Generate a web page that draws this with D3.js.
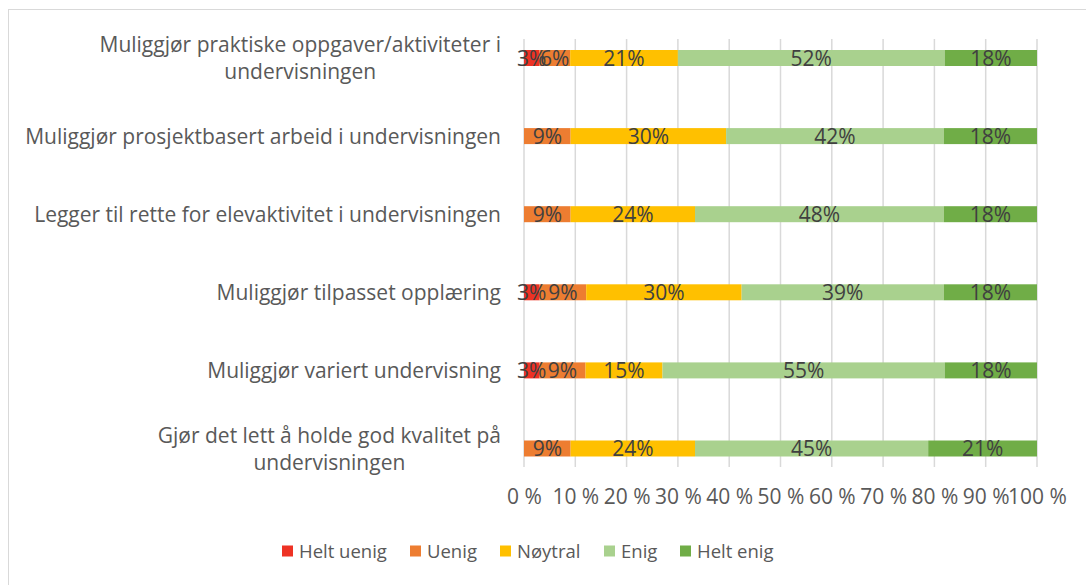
<!DOCTYPE html>
<html>
<head>
<meta charset="utf-8">
<script src="https://cdn.jsdelivr.net/npm/d3@7"></script>
<style>
  body { margin: 0; background: #fff; }
  svg { display: block; font-family: 'Open Sans', sans-serif; }
</style>
</head>
<body>
<script>
var width = 1086
var height = 585

// categories top to bottom, split into lines as in the original
var categories = [
    ['Muliggjør praktiske oppgaver/aktiviteter i', 'undervisningen'],
    ['Muliggjør prosjektbasert arbeid i undervisningen'],
    ['Legger til rette for elevaktivitet i undervisningen'],
    ['Muliggjør tilpasset opplæring'],
    ['Muliggjør variert undervisning'],
    ['Gjør det lett å holde god kvalitet på', 'undervisningen']
]
var series = ['Helt uenig', 'Uenig', 'Nøytral', 'Enig', 'Helt enig']
var colors = ['#EE3224', '#ED7D31', '#FFC000', '#A9D18E', '#70AD47']

var heltUenig = [3, 0, 0, 3, 3, 0]
var uenig     = [6, 9, 9, 9, 9, 9]
var noytral   = [21, 30, 24, 30, 15, 24]
var enig      = [52, 42, 48, 39, 55, 45]
var heltEnig  = [18, 18, 18, 18, 18, 21]

var ticks = [0, 0.1, 0.2, 0.3, 0.4, 0.5, 0.6, 0.7, 0.8, 0.9, 1]

var values = [heltUenig, uenig, noytral, enig, heltEnig]
var rows = categories.map(function(c, i) {
    var r = { key: i }
    series.forEach(function(s, j) { r[s] = values[j][i] })
    return r
})

var stack = d3.stack()
    .keys(series)
    .offset(d3.stackOffsetExpand)
var layers = stack(rows)

var x = d3.scaleLinear()
    .domain([0, 1])
    .range([524, 1037])

var y = d3.scalePoint()
    .domain(d3.range(categories.length))
    .range([58, 448.5])

var barH = 16
var fontSize = '21px'
var legendSize = '18.5px'

var svg = d3.select('body').append('svg')
    .attr('width', width)
    .attr('height', height)

// chart border
svg.append('rect')
    .attr('x', 8.5).attr('y', 9.5)
    .attr('width', 1200).attr('height', 700)
    .style('fill', 'none')
    .style('stroke', '#d9d9d9')

// gridlines
svg.append('g')
    .attr('class', 'grid')
    .selectAll('line')
    .data(ticks)
    .enter().append('line')
    .attr('x1', function(d) { return x(d) })
    .attr('x2', function(d) { return x(d) })
    .attr('y1', 39)
    .attr('y2', 467)
    .style('stroke', '#d9d9d9')
    .style('stroke-width', 1.5)

// x axis tick labels
var xAxis = d3.axisBottom(x)
    .tickValues(ticks)
    .tickSize(0)
    .tickPadding(0)
    .tickFormat(function(d) { return Math.round(d * 100) + ' %' })

svg.append('g')
    .attr('transform', 'translate(0,496)')
    .call(xAxis)
    .call(function(g) { g.select('.domain').remove() })
    .selectAll('text')
    .attr('dy', '0.36em')
    .style('font-family', "'Open Sans', sans-serif")
    .style('font-size', fontSize)
    .style('fill', '#595959')

// bars
var layer = svg.append('g')
    .attr('class', 'bars')
    .selectAll('g')
    .data(layers)
    .enter().append('g')
    .style('fill', function(d, i) { return colors[i] })

layer.selectAll('rect')
    .data(function(d) { return d })
    .enter().append('rect')
    .attr('x', function(d) { return x(d[0]) })
    .attr('width', function(d) { return x(d[1]) - x(d[0]) })
    .attr('y', function(d, i) { return y(i) - barH / 2 })
    .attr('height', barH)

// data labels
layer.each(function(l, j) {
    d3.select(this.parentNode).append('g')
        .selectAll('text')
        .data(l.filter(function(d) { return d.data[series[j]] > 0 }))
        .enter().append('text')
        .attr('x', function(d) { return (x(d[0]) + x(d[1])) / 2 })
        .attr('y', function(d) { return y(d.data.key) })
        .attr('dy', '0.36em')
        .attr('text-anchor', 'middle')
        .style('font-size', fontSize)
        .style('fill', '#404040')
        .text(function(d) { return d.data[series[j]] + '%' })
})

// category labels
var catG = svg.append('g').attr('class', 'categories')
categories.forEach(function(lines, i) {
    var t = catG.append('text')
        .style('font-size', fontSize)
        .style('fill', '#595959')
        .attr('text-anchor', 'middle')
    var lineH = 27
    var y0 = y(i) - (lines.length - 1) * lineH / 2
    lines.forEach(function(line, k) {
        t.append('tspan')
            .attr('y', y0 + k * lineH)
            .attr('dy', '0.36em')
            .text(line)
    })
    var maxW = 0
    t.selectAll('tspan').each(function() {
        maxW = Math.max(maxW, this.getComputedTextLength())
    })
    t.selectAll('tspan').attr('x', 501 - maxW / 2)
})

// legend
var legendX = [282, 410, 500, 604, 680]
var legend = svg.append('g')
    .attr('class', 'legend')
    .selectAll('g')
    .data(series)
    .enter().append('g')
    .attr('transform', function(d, i) { return 'translate(' + legendX[i] + ',551)' })

legend.append('rect')
    .attr('x', 0).attr('y', -5.5)
    .attr('width', 11).attr('height', 11)
    .style('fill', function(d, i) { return colors[i] })

legend.append('text')
    .attr('x', 17)
    .attr('dy', '0.36em')
    .style('font-size', legendSize)
    .style('fill', '#595959')
    .text(function(d) { return d })
</script>
</body>
</html>
